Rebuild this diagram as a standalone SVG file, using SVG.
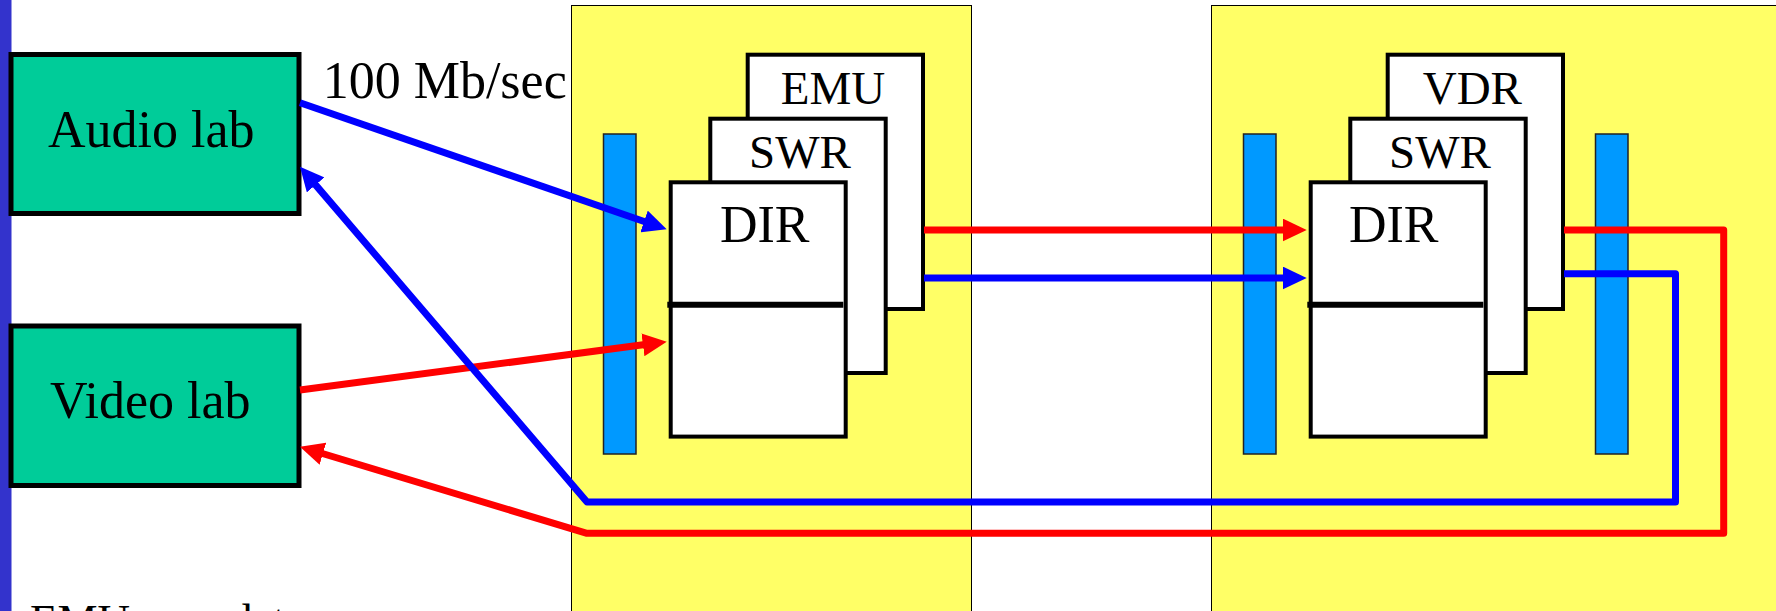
<svg xmlns="http://www.w3.org/2000/svg" width="1776" height="611" viewBox="0 0 1776 611">
<style>
text{font-family:"Liberation Serif","Times New Roman",serif;fill:#000}
.lab{fill:#00CC99;stroke:#000;stroke-width:5}
.panel{fill:#FFFF66;stroke:#000;stroke-width:1}
.bus{fill:#0099FF;stroke:#222;stroke-width:1.5}
.card{fill:#fff;stroke:#000;stroke-width:4}
.div{stroke:#000;stroke-width:6}
.red{fill:none;stroke:#FF0000;stroke-width:7;stroke-linejoin:round}
.blue{fill:none;stroke:#0000FF;stroke-width:7;stroke-linejoin:round}
</style>
<defs>
<marker id="ar" markerUnits="userSpaceOnUse" markerWidth="24" markerHeight="23" refX="4" refY="11.5" orient="auto"><path d="M0,0 L24,11.5 L0,23 z" fill="#FF0000"/></marker>
<marker id="ab" markerUnits="userSpaceOnUse" markerWidth="24" markerHeight="23" refX="4" refY="11.5" orient="auto"><path d="M0,0 L24,11.5 L0,23 z" fill="#0000FF"/></marker>
</defs>
<rect x="0" y="0" width="1776" height="611" fill="#fff"/>
<rect x="0" y="0" width="11.5" height="611" fill="#3333CC"/>

<g id="panel1">
<rect class="panel" x="571.5" y="5.5" width="400" height="640"/>
<rect class="bus" x="603.5" y="134" width="32.5" height="320"/>
</g>
<g id="panel2">
<rect class="panel" x="1211.5" y="5.5" width="600" height="640"/>
<rect class="bus" x="1243.5" y="134" width="32.5" height="320"/>
<rect class="bus" x="1595.5" y="134" width="32.5" height="320"/>
</g>

<g id="audio-lab">
<rect class="lab" x="11" y="54.5" width="288" height="159"/>
<text x="48" y="146.7" font-size="52">Audio lab</text>
</g>
<g id="video-lab">
<rect class="lab" x="11" y="326" width="288" height="159.5"/>
<text x="50" y="418.3" font-size="52">Video lab</text>
</g>

<g id="emu">
<rect class="card" x="747.7" y="54.7" width="175.3" height="254.3"/>
<text x="780.7" y="104" font-size="47">EMU</text>
</g>
<g id="swr1">
<rect class="card" x="710.3" y="118.7" width="175.4" height="254.3"/>
<text x="749" y="168.3" font-size="47">SWR</text>
</g>
<g id="dir1">
<rect class="card" x="670.7" y="182.3" width="175" height="254.3"/>
<text x="720" y="242" font-size="52">DIR</text>
<line class="div" x1="667.3" y1="304.7" x2="843.3" y2="304.7"/>
</g>

<g id="vdr">
<rect class="card" x="1387.7" y="54.7" width="175.3" height="254.3"/>
<text x="1422.7" y="104" font-size="47">VDR</text>
</g>
<g id="swr2">
<rect class="card" x="1350.3" y="118.7" width="175.4" height="254.3"/>
<text x="1389" y="168.3" font-size="47">SWR</text>
</g>
<g id="dir2">
<rect class="card" x="1310.7" y="182.3" width="175" height="254.3"/>
<text x="1349" y="242" font-size="52">DIR</text>
<line class="div" x1="1307.3" y1="304.7" x2="1483.3" y2="304.7"/>
</g>

<g id="connectors">
<path class="blue" d="M300,102.7 L647.8,222.8" marker-end="url(#ab)"/>
<path class="red" d="M300,390 L646.9,344.3" marker-end="url(#ar)"/>
<path class="red" d="M924,230 L1286.7,230" marker-end="url(#ar)"/>
<path class="blue" d="M924,278 L1286.7,278" marker-end="url(#ab)"/>
<path class="blue" d="M1564,273.7 L1675.5,273.7 L1675.5,502 L587,502 L313,181.9" marker-end="url(#ab)"/>
<path class="red" d="M1564,230 L1723.7,230 L1723.7,533.3 L587,533.3 L319.1,452.5" marker-end="url(#ar)"/>
</g>

<text x="322.7" y="98.3" font-size="52">100 Mb/sec</text>
<text x="30" y="635" font-size="45">EMU uses data</text>
</svg>
